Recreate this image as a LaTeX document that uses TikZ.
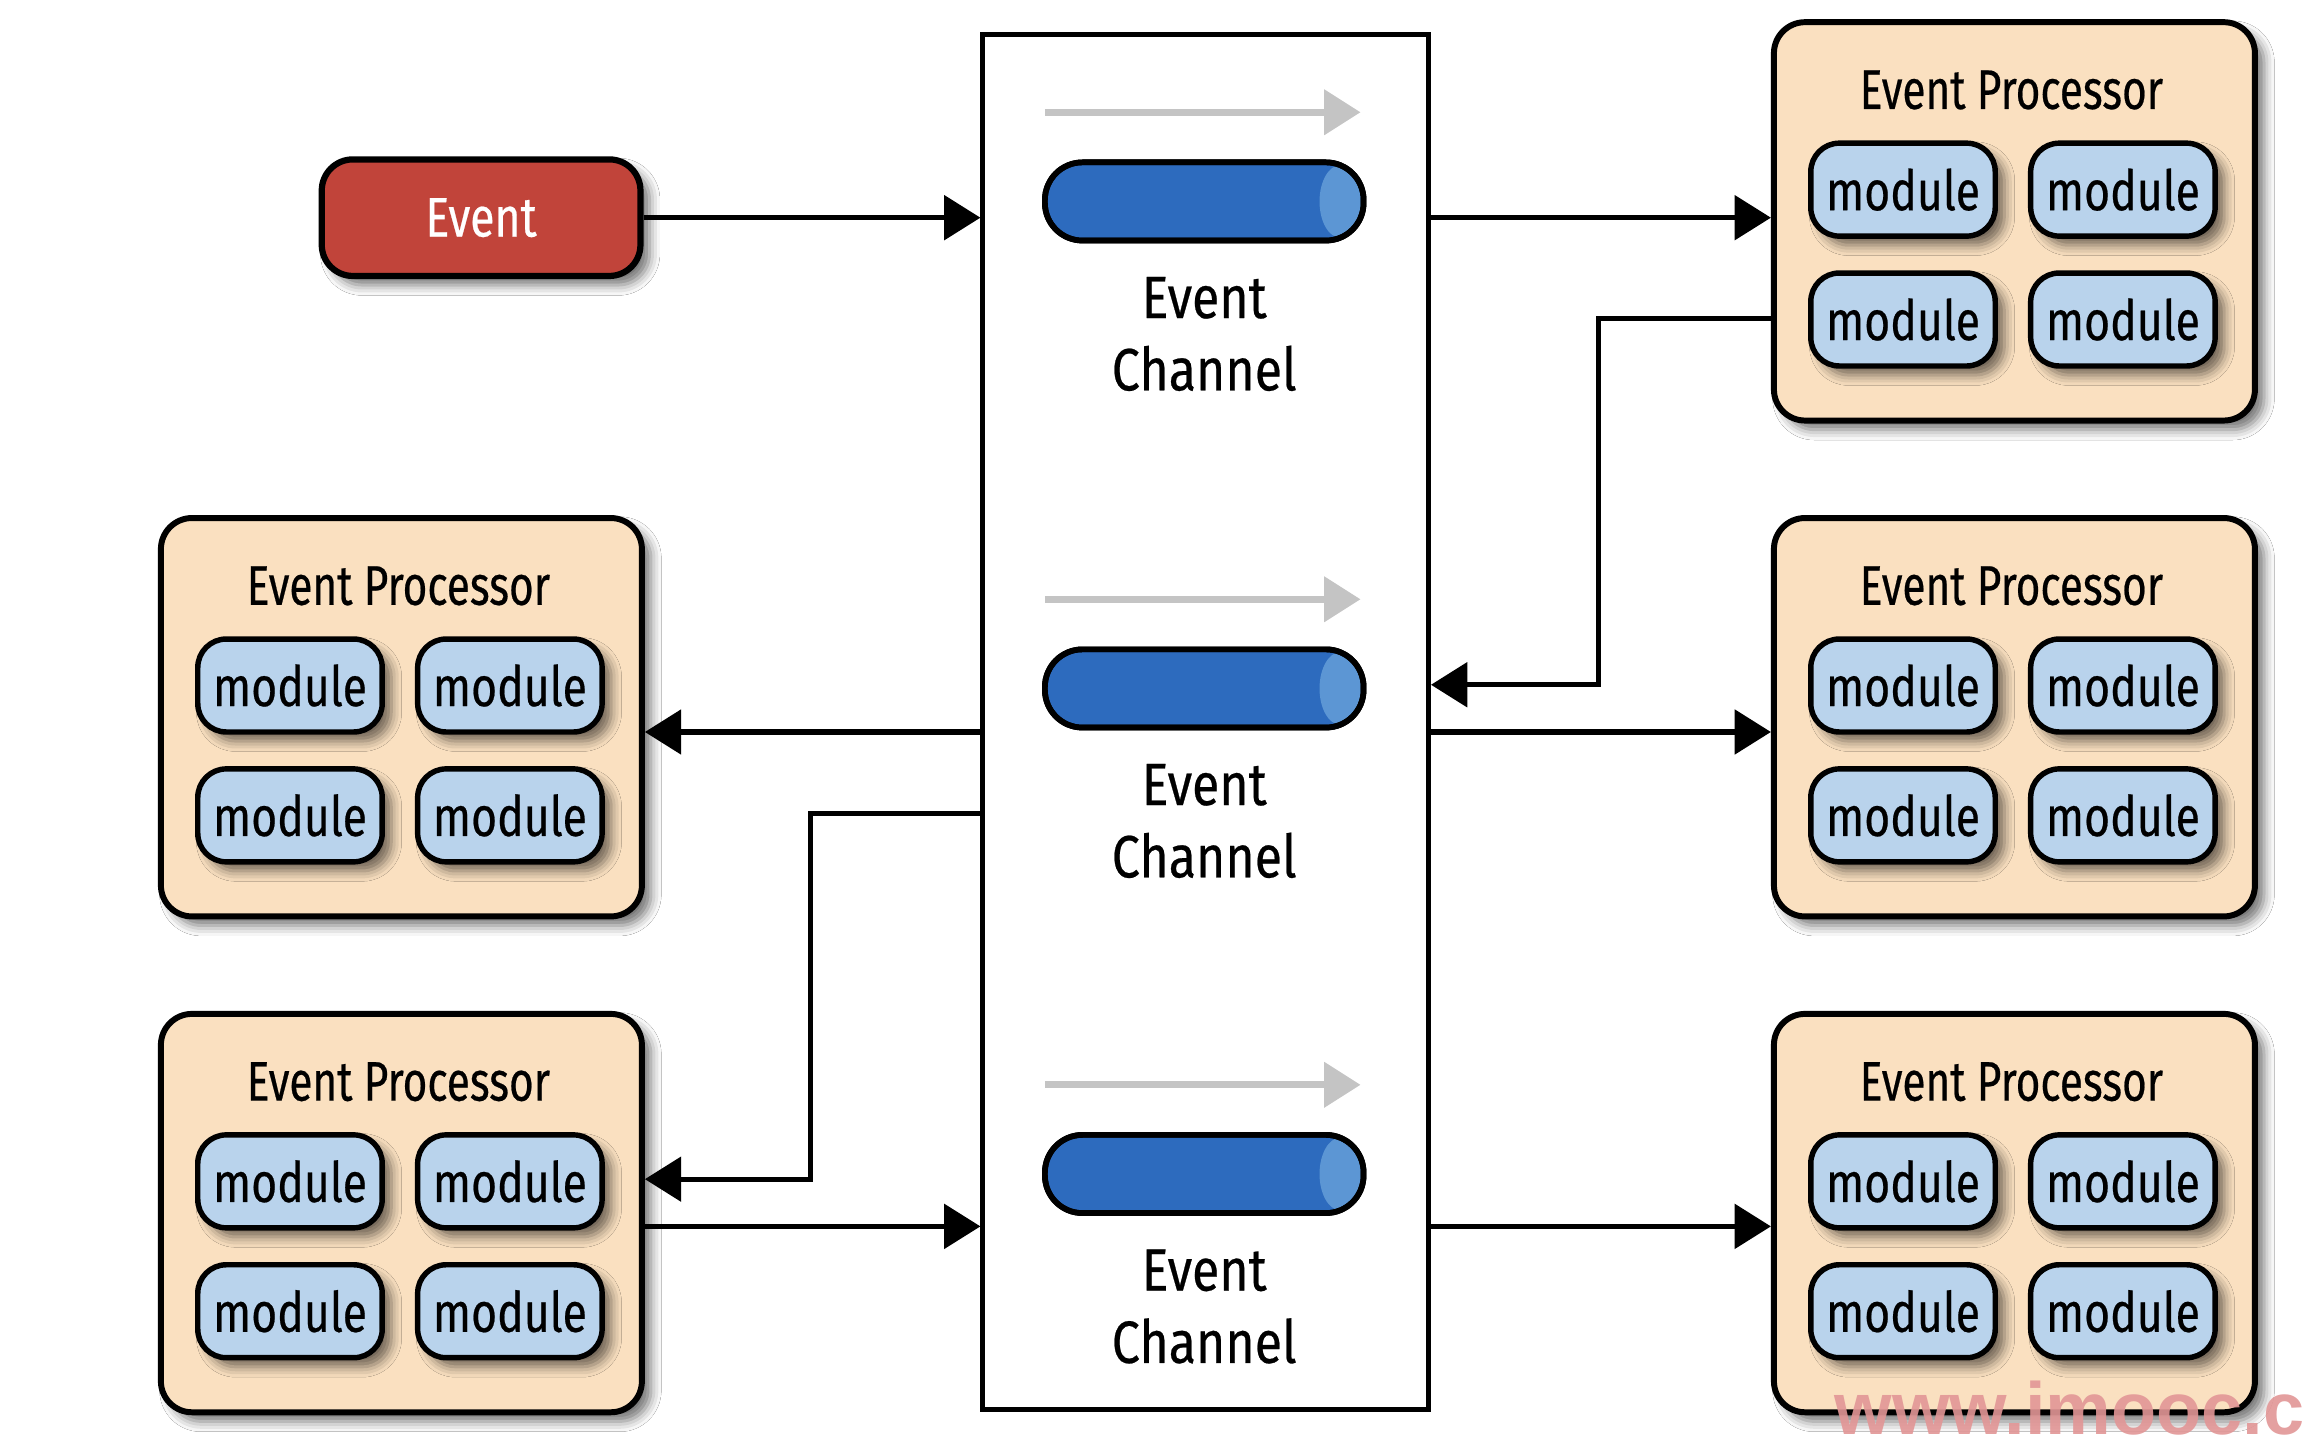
\documentclass[tikz,border=0pt]{standalone}
\usepackage{fontspec}
\newfontfamily\condfont[FakeStretch=0.8,FakeBold=0.4]{Fira Sans}
\newfontfamily\titlefont[FakeStretch=0.76,FakeBold=0.4]{Fira Sans}
\newfontfamily\chanfont[FakeStretch=0.84,FakeBold=0.4]{Fira Sans}
\newfontfamily\wmfont{Liberation Sans}
\usetikzlibrary{arrows.meta,shadows.blur,calc}
\definecolor{evred}{RGB}{193,68,58}
\definecolor{wheatbg}{RGB}{250,224,192}
\definecolor{modblue}{RGB}{185,211,236}
\definecolor{pipeblue}{RGB}{45,107,190}
\definecolor{capblue}{RGB}{92,150,212}
\definecolor{grayarr}{RGB}{196,196,196}
\definecolor{wmpink}{RGB}{226,150,150}
\newcommand\lblfont{\condfont\fontsize{21.5pt}{25pt}\selectfont}
\newcommand\ttlfont{\titlefont\fontsize{21.5pt}{25pt}\selectfont}
\newcommand\chlblfont{\chanfont\fontsize{23pt}{27pt}\selectfont}
\tikzset{
  shad/.style={blur shadow={shadow xshift=3.5pt, shadow yshift=-3.5pt, shadow blur radius=4pt, shadow opacity=55}},
  conn/.style={line width=2pt, -{Triangle[length=14pt,width=17pt]}},
  grayline/.style={draw=grayarr, line width=2.6pt, -{Triangle[length=14pt,width=17pt]}},
  procbox/.style={draw, line width=2.3pt, fill=wheatbg, rounded corners=12pt, minimum width=6.52cm, minimum height=5.4cm, inner sep=0pt, shad},
  modbox/.style={draw, line width=2.1pt, fill=modblue, rounded corners=11pt, minimum width=2.5cm, minimum height=1.26cm, inner sep=0pt, font=\lblfont, shad},
  ptitle/.style={font=\ttlfont, inner sep=0pt},
  evbox/.style={draw, line width=2.4pt, fill=evred, text=white, rounded corners=12pt, minimum width=4.32cm, minimum height=1.58cm, inner sep=0pt, font=\lblfont, shad},
  chanrect/.style={draw, line width=1.9pt, fill=white, minimum width=6.04cm, minimum height=18.64cm, inner sep=0pt},
  pipebox/.style={draw, line width=2.2pt, fill=pipeblue, rounded corners=14.5pt, minimum width=4.32cm, minimum height=1.06cm, inner sep=0pt,
     path picture={\fill[capblue] ([xshift=-9pt]path picture bounding box.east) ellipse [x radius=8pt, y radius=14pt];}},
  pipeedge/.style={draw, line width=2.2pt, rounded corners=14.5pt, minimum width=4.32cm, minimum height=1.06cm, inner sep=0pt},
  chlabel/.style={font=\chlblfont, inner sep=0pt, anchor=base},
}
\newcommand\eproc[3]{%
  \node[procbox, anchor=north west] (#1) at (#2,#3) {};
  \node[ptitle] (#1t) at ($(#1.north west)+(163,48)$) {Event Processor};
  \node[modbox] (#1ma) at ($(#1.north west)+(89.5,115.5)$) {module};
  \node[modbox] (#1mb) at ($(#1.north west)+(238.5,115.5)$) {module};
  \node[modbox] (#1mc) at ($(#1.north west)+(89.5,203.5)$) {module};
  \node[modbox] (#1md) at ($(#1.north west)+(238.5,203.5)$) {module};
}
\newcommand\chan[2]{%
  \node[pipebox] (#1) at (816,#2) {};
  \node[pipeedge] at (#1) {};
  \coordinate (#1ga) at ($(#1.north west)+(2,-32)$);
  \coordinate (#1gb) at ($(#1.north east)+(-4,-32)$);
  \draw[grayline] (#1ga) -- (#1gb);
  \node[chlabel] (#1la) at ($(#1)+(0,79)$) {Event};
  \node[chlabel] (#1lb) at ($(#1)+(0,128)$) {Channel};
}
\begin{document}
\begin{tikzpicture}[x=0.02cm,y=-0.02cm]
\useasboundingbox (0,0) rectangle (1568,981);
\clip (0,0) rectangle (1568,981);
\fill[white] (0,0) rectangle (1568,981);

\node[chanrect] (rect) at (817,489) {};
\chan{c1}{136.5}
\chan{c2}{466.5}
\chan{c3}{795.5}

\node[evbox] (ev) at (326,147.5) {Event};

\eproc{p1}{1200}{13}
\eproc{p2}{1200}{349}
\eproc{p3}{1200}{685}
\eproc{p4}{107}{349}
\eproc{p5}{107}{685}

\coordinate (h216) at (0,216);
\coordinate (h464) at (0,464);
\coordinate (h496) at (0,496);
\coordinate (h551) at (0,551);
\coordinate (h799) at (0,799);
\coordinate (h831) at (0,831);
\coordinate (kr) at (1083,0);
\coordinate (kl) at (549,0);

\draw[conn] (ev.east) -- (rect.west |- ev.east);
\draw[conn] (rect.east |- ev.east) -- (p1.west |- ev.east);
\draw[conn] (p1.west |- h216) -- (kr |- h216) -- (kr |- h464) -- (rect.east |- h464);
\draw[conn] (rect.east |- h496) -- (p2.west |- h496);
\draw[conn] (rect.east |- h831) -- (p3.west |- h831);
\draw[conn] (rect.west |- h496) -- (p4.east |- h496);
\draw[conn] (rect.west |- h551) -- (kl |- h551) -- (kl |- h799) -- (p5.east |- h799);
\draw[conn] (p5.east |- h831) -- (rect.west |- h831);

\node[anchor=base west, inner sep=0pt, text=wmpink, opacity=0.9, font=\wmfont\bfseries\fontsize{28.5pt}{30pt}\selectfont] (wm) at (1243,972) {www.imooc.c};
\end{tikzpicture}
\end{document}
